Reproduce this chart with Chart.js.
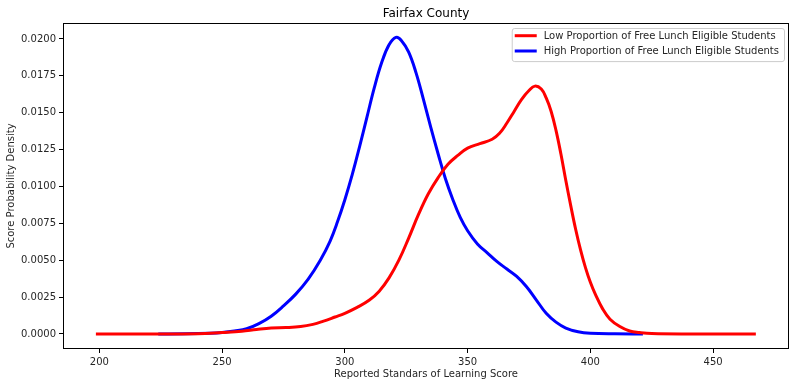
<!DOCTYPE html>
<html>
<head>
<meta charset="utf-8">
<script src="https://cdn.jsdelivr.net/npm/chart.js@4/dist/chart.umd.min.js"></script>
<style>
  html, body { margin: 0; padding: 0; background: #fff; }
  #wrap { width: 795px; height: 387px; position: relative; }
</style>
</head>
<body>
<div id="wrap"><canvas id="myChart"></canvas></div>
<script>
// values
const lowX = [198.6, 220, 240, 250, 258, 264, 270, 276, 282, 287, 291, 296, 300, 305, 310, 314, 318, 322, 326, 330, 334, 338, 342, 346, 350, 355, 360, 363, 366, 369, 372, 375, 377.4, 380, 382, 384, 386, 388, 390, 392, 394, 396, 398, 400, 402, 405, 408, 412, 416, 420, 425, 440, 467.4];
const lowY = [0, 0, 0.00002, 0.0001, 0.00018, 0.0003, 0.0004, 0.00043, 0.0005, 0.00065, 0.00085, 0.00115, 0.0014, 0.0018, 0.0023, 0.0029, 0.0038, 0.005, 0.0065, 0.0081, 0.0095, 0.0106, 0.0115, 0.0121, 0.0126, 0.0129, 0.0132, 0.0136, 0.0143, 0.0151, 0.0159, 0.0165, 0.0168, 0.0166, 0.016, 0.0151, 0.0138, 0.0122, 0.0104, 0.0087, 0.0071, 0.0057, 0.0045, 0.0035, 0.0027, 0.0017, 0.001, 0.0005, 0.0002, 0.0001, 0.00003, 0, 0];

const highX = [224, 235, 245, 250, 255, 260, 265, 270, 275, 280, 285, 290, 294, 297, 300, 303, 306, 309, 312, 315, 318, 320.8, 323, 326, 329, 332, 335, 338, 341, 344, 347, 350, 354, 358, 362, 366, 370, 374, 378, 382, 386, 390, 395, 400, 410, 421.4];
const highY = [0, 0.00001, 0.00005, 0.0001, 0.0002, 0.00035, 0.0007, 0.0012, 0.0019, 0.0027, 0.0037, 0.005, 0.0063, 0.0076, 0.0091, 0.0108, 0.0127, 0.0147, 0.0167, 0.0184, 0.0196, 0.0201, 0.0199, 0.0191, 0.0177, 0.0159, 0.014, 0.0122, 0.0105, 0.0091, 0.0079, 0.007, 0.0061, 0.0055, 0.0049, 0.0044, 0.0039, 0.0032, 0.0023, 0.0014, 0.0008, 0.0004, 0.00015, 0.00005, 0.00001, 0];

const xTicks = [200, 250, 300, 350, 400, 450];
const yTicks = [0, 0.0025, 0.005, 0.0075, 0.01, 0.0125, 0.015, 0.0175, 0.02];

const titleText = 'Fairfax County';
const lowLabel = 'Low Proportion of Free Lunch Eligible Students';
const highLabel = 'High Proportion of Free Lunch Eligible Students';

const FONT = 'DejaVu Sans';

const toPoints = (xs, ys) => xs.map((x, i) => ({ x: x, y: ys[i] }));

// matplotlib-like frame, centered title and legend inside the axes
const mplDecor = {
    id: 'mplDecor',
    afterDraw(chart) {
        const { ctx, chartArea } = chart;
        const a = chartArea;
        ctx.save();
        ctx.strokeStyle = '#000';
        ctx.lineWidth = 1;
        ctx.strokeRect(Math.round(a.left) + 0.5, Math.round(a.top) + 0.5,
            Math.round(a.right - a.left) - 1, Math.round(a.bottom - a.top) - 1);

        ctx.fillStyle = '#000';
        ctx.font = '12px "' + FONT + '"';
        ctx.textAlign = 'center';
        ctx.textBaseline = 'alphabetic';
        ctx.fillText(titleText, (a.left + a.right) / 2, a.top - 6);

        // legend
        ctx.font = '10px "' + FONT + '"';
        const sets = chart.data.datasets;
        let maxW = 0;
        sets.forEach(d => { maxW = Math.max(maxW, ctx.measureText(d.label).width); });
        const boxW = maxW + 37;
        const rowH = 15.3;
        const boxH = sets.length * rowH + 2.5;
        const bx = a.right - 5 - boxW;
        const by = a.top + 5;
        ctx.beginPath();
        ctx.roundRect(bx + 0.5, by + 0.5, boxW, boxH, 2.5);
        ctx.fillStyle = 'rgba(255,255,255,0.8)';
        ctx.fill();
        ctx.strokeStyle = '#cccccc';
        ctx.stroke();
        ctx.textAlign = 'left';
        ctx.textBaseline = 'middle';
        sets.forEach((d, i) => {
            const cy = by + 7.7 + i * rowH;
            ctx.beginPath();
            ctx.moveTo(bx + 3, cy);
            ctx.lineTo(bx + 25, cy);
            ctx.strokeStyle = d.borderColor;
            ctx.lineWidth = 3;
            ctx.stroke();
            ctx.fillStyle = '#262626';
            ctx.fillText(d.label, bx + 32, cy + 0.5);
        });
        ctx.restore();
    }
};

const ctx = document.getElementById('myChart').getContext('2d');
new Chart(ctx, {
    type: 'line',
    data: {
        datasets: [
            {
                label: lowLabel,
                data: toPoints(lowX, lowY),
                borderColor: '#ff0000',
                borderWidth: 3,
                pointRadius: 0,
                tension: 0.4,
                fill: false
            },
            {
                label: highLabel,
                data: toPoints(highX, highY),
                borderColor: '#0000ff',
                borderWidth: 3,
                pointRadius: 0,
                tension: 0.4,
                fill: false
            }
        ]
    },
    options: {
        responsive: true,
        maintainAspectRatio: false,
        animation: false,
        layout: { padding: { top: 23, right: 6, left: 0, bottom: 0 } },
        plugins: {
            legend: { display: false },
            title: { display: false },
            tooltip: { enabled: false }
        },
        scales: {
            x: {
                type: 'linear',
                min: 185.2,
                max: 480.9,
                afterBuildTicks: s => { s.ticks = xTicks.map(v => ({ value: v })); },
                afterFit: s => { s.height = 38; },
                border: { display: false },
                grid: { drawOnChartArea: false, drawTicks: true, tickLength: 4, color: '#000' },
                ticks: {
                    padding: 3,
                    color: '#262626',
                    font: { family: FONT, size: 10 },
                    maxRotation: 0,
                    callback: v => String(v)
                },
                title: {
                    display: true,
                    text: 'Reported Standars of Learning Score',
                    color: '#262626',
                    font: { family: FONT, size: 10 },
                    padding: { top: 0, bottom: 7 }
                }
            },
            y: {
                type: 'linear',
                min: -0.00102,
                max: 0.02108,
                afterBuildTicks: s => { s.ticks = yTicks.map(v => ({ value: v })); },
                afterFit: s => { s.width = 63; },
                border: { display: false },
                grid: { drawOnChartArea: false, drawTicks: true, tickLength: 4, color: '#000' },
                ticks: {
                    padding: 3,
                    color: '#262626',
                    font: { family: FONT, size: 10 },
                    callback: v => v.toFixed(4)
                },
                title: {
                    display: true,
                    text: 'Score Probability Density',
                    color: '#262626',
                    font: { family: FONT, size: 10 },
                    padding: { top: 5, bottom: 0 }
                }
            }
        }
    },
    plugins: [mplDecor]
});
</script>
</body>
</html>
